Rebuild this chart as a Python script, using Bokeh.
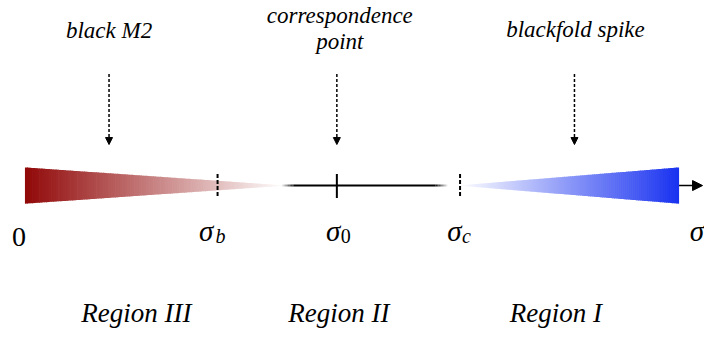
from bokeh.plotting import figure
from bokeh.models import Range1d, Arrow, NormalHead, ColumnDataSource
from bokeh.core.properties import value
from bokeh.embed import file_html
from bokeh.resources import INLINE

# ---- data (schematic positions along the sigma axis, in drawing units) ----
axis_y = 194
red_thick_x, red_tip_x = 25, 292          # Region III wedge (black M2)
blue_tip_x, blue_thick_x = 468, 694       # Region I wedge (blackfold spike)
wedge_half = 19
line_x = [300, 445]                       # Region II plain line
tick_x = [222, 344, 470]                  # sigma_b, sigma_0, sigma_c
tick_dash = ["4 2", "solid", "4 2"]

zero_label = ["0"]
zero_x = [19]
sigma_sym = ["σ", "σ", "σ", "σ"]
sigma_x = [203, 333, 457, 705]
sub_text = ["b", "0", "c"]
sub_x = [220, 348, 472]
sub_style = ["italic", "normal", "italic"]

top_labels = ["black M2", "correspondence", "point", "blackfold spike"]
top_x = [111, 347, 347, 588]
top_y = [31, 16, 43, 30]

arrow_x = [111, 344, 587]
arrow_y0, arrow_y1 = 77, 151

region_labels = ["Region III", "Region II", "Region I"]
region_x = [139, 346, 568]
region_y = 328

red_rgb = (145, 8, 8)
blue_rgb = (25, 50, 240)

SERIF = value("Liberation Serif")

p = figure(width=704, height=331, x_range=Range1d(0, 720), y_range=Range1d(347, 0),
           output_backend="svg", toolbar_location=None, min_border=0,
           x_axis_type=None, y_axis_type=None)
p.grid.visible = False
p.outline_line_color = None
p.background_fill_color = "white"
p.border_fill_color = "white"


def wedge(x_thick, x_tip, rgb, n=110):
    xs, ys, cols = [], [], []
    d = 1 if x_tip > x_thick else -1
    for i in range(n):
        t0, t1 = i / n, (i + 1) / n
        xa = x_thick + (x_tip - x_thick) * t0
        xb = x_thick + (x_tip - x_thick) * t1 + d * 0.7
        ha = wedge_half * (1 - t0)
        hb = wedge_half * (1 - t1)
        xs.append([xa, xb, xb, xa])
        ys.append([axis_y - ha, axis_y - hb, axis_y + hb, axis_y + ha])
        tm = (t0 + t1) / 2
        c = tuple(int(round(ch + (255 - ch) * tm)) for ch in rgb)
        cols.append("#%02x%02x%02x" % c)
    return dict(xs=xs, ys=ys, color=cols)


for x_thick, x_tip, rgb in [(red_thick_x, red_tip_x, red_rgb), (blue_thick_x, blue_tip_x, blue_rgb)]:
    src = ColumnDataSource(wedge(x_thick, x_tip, rgb))
    p.patches("xs", "ys", fill_color="color", line_color=None, source=src)

# Region II line with faded ends
p.line(line_x, [axis_y, axis_y], line_color="black", line_width=2)
fade_n = 8
fx0, fx1, fa = [], [], []
for i in range(fade_n):
    a = (i + 1) / (fade_n + 1)
    fx0 += [line_x[0] - 12 + 12 * i / fade_n, line_x[1] + 12 - 12 * (i + 1) / fade_n]
    fx1 += [line_x[0] - 12 + 12 * (i + 1) / fade_n, line_x[1] + 12 - 12 * i / fade_n]
    fa += [a, a]
p.segment(x0=fx0, y0=[axis_y] * len(fx0), x1=fx1, y1=[axis_y] * len(fx0),
          line_color="black", line_alpha=fa, line_width=2)

# ticks
for tx, dash in zip(tick_x, tick_dash):
    p.segment(x0=[tx], y0=[axis_y - 12], x1=[tx], y1=[axis_y + 13],
              line_color="black", line_width=2, line_dash=dash)

# axis arrow
p.add_layout(Arrow(end=NormalHead(size=10, fill_color="black", line_color="black"),
                   x_start=blue_thick_x, y_start=axis_y, x_end=718, y_end=axis_y,
                   line_color="black", line_width=1.5))

# dashed arrows from annotations
asrc = ColumnDataSource(dict(x=arrow_x, y0=[arrow_y0] * 3, y1=[arrow_y1] * 3))
p.add_layout(Arrow(end=NormalHead(size=7, fill_color="black", line_color="black", line_width=1),
                   x_start="x", y_start="y0", x_end="x", y_end="y1", source=asrc,
                   line_color="black", line_width=1.5, line_dash="3 2"))

# axis labels
p.text(x=zero_x, y=[248], text=zero_label, text_font=SERIF, text_font_size="28px",
       text_align="center", text_baseline="alphabetic", text_color="black")
p.text(x=sigma_x, y=[242] * 4, text=sigma_sym, text_font=SERIF, text_font_style="italic",
       text_font_size="29px", text_align="left", text_baseline="alphabetic", text_color="black")
ssrc = ColumnDataSource(dict(x=sub_x, y=[247] * 3, t=sub_text, s=sub_style))
p.text(x="x", y="y", text="t", text_font_style="s", source=ssrc, text_font=SERIF,
       text_font_size="20px", text_align="left", text_baseline="alphabetic", text_color="black")

# top annotations
p.text(x=top_x, y=top_y, text=top_labels, text_font=SERIF, text_font_style="italic",
       text_font_size="23px", text_align="center", text_baseline="alphabetic", text_color="black")

# region labels
p.text(x=region_x, y=[region_y] * 3, text=region_labels, text_font=SERIF, text_font_style="italic",
       text_font_size="27px", text_align="center", text_baseline="alphabetic", text_color="black")

open("out.html", "w").write(file_html(p, INLINE))
